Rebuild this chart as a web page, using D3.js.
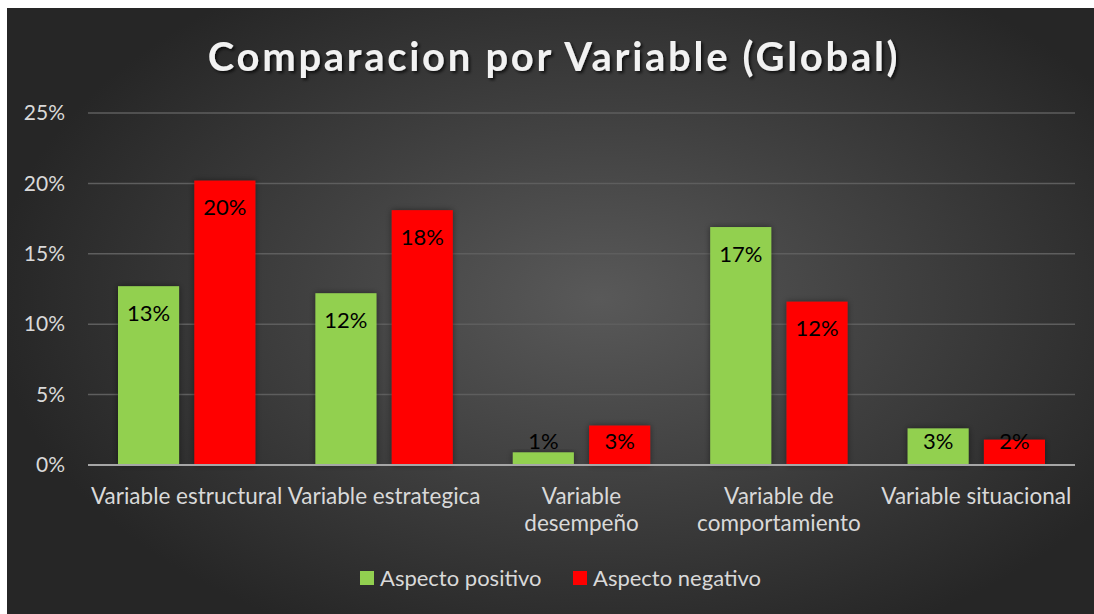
<!DOCTYPE html>
<html>
<head>
<meta charset="utf-8">
<script src="https://cdn.jsdelivr.net/npm/d3@7"></script>
<style>
  html, body { margin: 0; padding: 0; background: #ffffff; }
  svg { display: block; }
  text { font-family: Lato, "Noto Sans", sans-serif; }
</style>
</head>
<body>
<div id="chart"></div>
<script>
// data
const categories = ["Variable estructural", "Variable estrategica", "Variable desempeño", "Variable de comportamiento", "Variable situacional"];
const categoryLines = [["Variable estructural"], ["Variable estrategica"], ["Variable", "desempeño"], ["Variable de", "comportamiento"], ["Variable situacional"]];
const seriesNames = ["Aspecto positivo", "Aspecto negativo"];
const seriesColors = ["#92d050", "#ff0000"];
const positivo = [0.127, 0.122, 0.009, 0.169, 0.026];
const negativo = [0.202, 0.181, 0.028, 0.116, 0.018];
const yTicks = [0, 0.05, 0.10, 0.15, 0.20, 0.25];
const title = "Comparacion por Variable (Global)";

const width = 1094, height = 614;
let margin = {top: 113, right: 19, bottom: 149, left: 88};

let svg = d3.select("#chart")
      .append("svg")
      .attr("width", width)
      .attr("height", height);

let defs = svg.append("defs");

let grad = defs.append("radialGradient")
      .attr("id", "bg")
      .attr("cx", "0.55").attr("cy", "0.48").attr("r", "0.62")
      .attr("gradientTransform", "translate(0.05,0) scale(0.9,1)");
grad.append("stop").attr("offset", "0%").attr("stop-color", "#595959");
grad.append("stop").attr("offset", "100%").attr("stop-color", "#262626");

let shadow = defs.append("filter").attr("id", "shadow")
      .attr("x", "-20%").attr("y", "-20%").attr("width", "140%").attr("height", "140%");
shadow.append("feDropShadow")
      .attr("dx", 0).attr("dy", 0).attr("stdDeviation", 3)
      .attr("flood-color", "#000").attr("flood-opacity", 0.45);

let titleShadow = defs.append("filter").attr("id", "tshadow")
      .attr("x", "-10%").attr("y", "-30%").attr("width", "120%").attr("height", "160%");
titleShadow.append("feDropShadow")
      .attr("dx", 2).attr("dy", 2).attr("stdDeviation", 1.5)
      .attr("flood-color", "#000").attr("flood-opacity", 0.7);

// chart background (white strip left/top like the screenshot)
svg.append("rect")
      .attr("x", 7).attr("y", 8)
      .attr("width", width - 7).attr("height", height - 8)
      .attr("fill", "url(#bg)");

let innerW = width - margin.left - margin.right,
    innerH = height - margin.top - margin.bottom;

let x0 = d3.scaleBand().domain(categories).range([0, innerW]).padding(0);
let x1 = d3.scaleBand().domain(seriesNames)
      .range([x0.bandwidth() * 0.152, x0.bandwidth() * 0.848])
      .paddingInner(0.2);
let y = d3.scaleLinear().domain([0, 0.25]).range([innerH, 0]);

let g = svg.append("g")
      .attr("transform", "translate(" + margin.left + "," + margin.top + ")");

// gridlines
g.append("g")
      .selectAll("line")
      .data(yTicks.slice(1))
      .join("line")
      .attr("x1", 0).attr("x2", innerW)
      .attr("y1", d => y(d)).attr("y2", d => y(d))
      .attr("stroke", "#5e5e5e")
      .attr("stroke-width", 1.5);

// y axis labels
let yAxis = d3.axisLeft(y).tickValues(yTicks).tickFormat(d3.format(".0%")).tickSize(0).tickPadding(23);
g.append("g")
      .attr("class", "y-axis")
      .call(yAxis)
      .call(s => s.select(".domain").remove())
      .selectAll("text")
      .attr("fill", "#d9d9d9")
      .style("font-size", "21px")
      .style("font-family", "Lato, sans-serif");

const table = categories.map((c, i) => ({cat: c, vals: [positivo[i], negativo[i]]}));

let groups = g.append("g")
      .selectAll("g")
      .data(table)
      .join("g")
      .attr("transform", d => "translate(" + x0(d.cat) + ",0)");

groups.selectAll("rect")
      .data(d => d.vals.map((v, j) => ({name: seriesNames[j], v: v, j: j})))
      .join("rect")
      .attr("x", d => x1(d.name))
      .attr("y", d => y(d.v))
      .attr("width", x1.bandwidth())
      .attr("height", d => innerH - y(d.v))
      .attr("fill", d => seriesColors[d.j])
      .attr("filter", "url(#shadow)");

// data labels, inside end (clamped near the base for short bars)
groups.selectAll("text.lbl")
      .data(d => d.vals.map((v, j) => ({name: seriesNames[j], v: v, j: j})))
      .join("text")
      .attr("class", "lbl")
      .attr("x", d => x1(d.name) + x1.bandwidth() / 2)
      .attr("y", d => Math.min(y(d.v) + 27, innerH - 24))
      .attr("dy", "0.35em")
      .attr("text-anchor", "middle")
      .attr("fill", "#000")
      .style("font-size", "22px")
      .text(d => d3.format(".0%")(d.v));

// baseline axis
g.append("line")
      .attr("x1", 0).attr("x2", innerW)
      .attr("y1", innerH).attr("y2", innerH)
      .attr("stroke", "#a6a6a6")
      .attr("stroke-width", 2);

// category labels
let xl = g.append("g")
      .selectAll("text")
      .data(categories)
      .join("text")
      .attr("x", d => x0(d) + x0.bandwidth() / 2)
      .attr("y", innerH + 39)
      .attr("text-anchor", "middle")
      .attr("fill", "#d9d9d9")
      .style("font-size", "22.5px");
xl.selectAll("tspan")
      .data((d, i) => categoryLines[i])
      .join("tspan")
      .attr("x", function() { return this.parentNode.getAttribute("x"); })
      .attr("dy", (d, i) => i === 0 ? 0 : 27)
      .text(d => d);

// title
svg.append("text")
      .attr("x", 554)
      .attr("y", 71)
      .attr("text-anchor", "middle")
      .attr("fill", "#f2f2f2")
      .attr("filter", "url(#tshadow)")
      .style("font-size", "40px")
      .style("font-weight", "bold")
      .style("letter-spacing", "2.7px")
      .text(title);

// legend
let legend = svg.append("g").attr("transform", "translate(360,578)");
let legendX = [0, 213];
seriesNames.forEach(function(name, i) {
  let item = legend.append("g").attr("transform", "translate(" + legendX[i] + ",0)");
  item.append("rect")
      .attr("x", 0).attr("y", -7)
      .attr("width", 14).attr("height", 14)
      .attr("fill", seriesColors[i]);
  item.append("text")
      .attr("x", 20).attr("y", 0)
      .attr("dy", "0.35em")
      .attr("fill", "#d9d9d9")
      .style("font-size", "22px")
      .text(name);
});
</script>
</body>
</html>
